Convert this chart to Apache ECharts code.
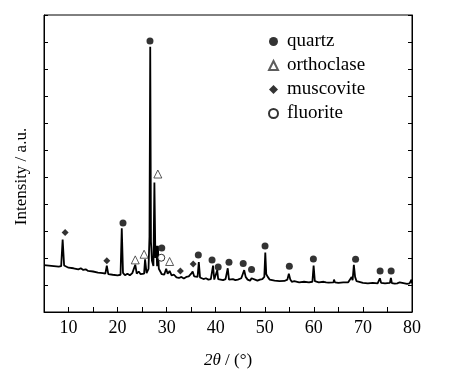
<!DOCTYPE html>
<html>
<head>
<meta charset="utf-8">
<script src="https://cdn.jsdelivr.net/npm/echarts@6/dist/echarts.min.js"></script>
<style>
  html, body { margin: 0; padding: 0; background: #fff; }
  #chart { width: 462px; height: 374px; }
</style>
</head>
<body>
<div id="chart"></div>
<script>
// XRD pattern (2theta in degrees, intensity in a.u.)
const patternX = [5, 6, 7, 8, 8.5, 8.8, 9.1, 9.5, 10, 11, 12, 12.5, 13, 13.5, 14, 15, 16, 17, 17.5, 17.8, 18.1, 19, 20, 20.6, 20.85, 21.1, 21.5, 22, 22.5, 23, 23.3, 23.6, 23.9, 24.3, 24.7, 25, 25.4, 25.6, 25.9, 26.3, 26.5, 26.65, 26.8, 27.0, 27.3, 27.5, 27.7, 27.9, 28.05, 28.2, 28.4, 28.7, 29, 29.5, 29.9, 30.2, 30.6, 31, 31.5, 32, 32.5, 33, 33.5, 34, 34.5, 35, 35.3, 35.6, 36, 36.3, 36.55, 36.8, 37.5, 38, 38.5, 39, 39.25, 39.45, 39.7, 40.1, 40.3, 40.5, 41, 41.5, 42, 42.3, 42.45, 42.7, 43.5, 44, 44.5, 45.2, 45.5, 45.8, 46.1, 46.5, 47, 47.3, 47.6, 48, 48.5, 49, 49.5, 49.9, 50.1, 50.3, 50.6, 51, 52, 53, 54, 54.6, 54.9, 55.2, 55.5, 56, 57, 58, 59, 59.7, 59.95, 60.2, 61, 62, 62.5, 63, 64, 64.1, 64.3, 65, 66, 67, 67.7, 67.9, 68.15, 68.4, 68.7, 69, 70, 71, 72, 73, 73.45, 73.7, 74.5, 75.5, 75.7, 75.9, 76.5, 77, 77.5, 77.8, 78.5, 79, 79.5, 79.9, 80];
const patternY = [1.74, 1.72, 1.70, 1.68, 1.70, 2.68, 1.72, 1.66, 1.64, 1.62, 1.58, 1.62, 1.56, 1.58, 1.52, 1.50, 1.46, 1.44, 1.42, 1.72, 1.40, 1.38, 1.36, 1.38, 3.10, 1.45, 1.36, 1.42, 1.36, 1.44, 1.40, 1.75, 1.42, 1.50, 1.40, 1.46, 1.42, 1.95, 1.44, 1.60, 2.80, 9.82, 2.60, 1.90, 1.70, 4.80, 2.00, 2.45, 1.70, 2.45, 1.60, 1.50, 1.40, 1.38, 1.60, 1.42, 1.52, 1.36, 1.38, 1.28, 1.26, 1.30, 1.24, 1.30, 1.32, 1.42, 1.50, 1.32, 1.28, 1.30, 1.85, 1.28, 1.22, 1.25, 1.20, 1.22, 1.18, 1.72, 1.20, 1.25, 1.55, 1.22, 1.20, 1.18, 1.22, 1.20, 1.62, 1.20, 1.22, 1.18, 1.20, 1.25, 1.40, 1.55, 1.30, 1.20, 1.16, 1.25, 1.18, 1.20, 1.16, 1.20, 1.22, 1.30, 2.20, 1.40, 1.30, 1.20, 1.16, 1.14, 1.15, 1.20, 1.42, 1.20, 1.12, 1.14, 1.10, 1.12, 1.10, 1.12, 1.72, 1.14, 1.10, 1.12, 1.10, 1.09, 1.10, 1.20, 1.10, 1.08, 1.10, 1.10, 1.30, 1.18, 1.75, 1.30, 1.14, 1.10, 1.08, 1.06, 1.08, 1.06, 1.25, 1.08, 1.06, 1.08, 1.26, 1.07, 1.05, 1.06, 1.10, 1.04, 1.06, 1.04, 1.06, 1.20, 1.06];

// phase markers above the peaks
const quartzX = [21.1, 26.6, 29.0, 36.45, 39.25, 40.5, 42.7, 45.6, 47.3, 50.05, 55.0, 59.9, 68.5, 73.5, 75.75];
const quartzY = [3.30, 10.04, 2.37, 2.11, 1.93, 1.67, 1.84, 1.80, 1.57, 2.44, 1.69, 1.96, 1.95, 1.52, 1.52];
const orthoclaseX = [23.6, 25.4, 28.2, 30.6];
const orthoclaseY = [1.93, 2.14, 5.11, 1.87];
const muscoviteX = [9.3, 17.8, 32.8, 35.4];
const muscoviteY = [2.94, 1.90, 1.52, 1.78];
const fluoriteX = [28.9];
const fluoriteY = [2.01];

const xTicks = [10, 20, 30, 40, 50, 60, 70, 80];

const pairs = (xs, ys) => xs.map((x, i) => [x, ys[i]]);
const serif = '"Liberation Serif", "Times New Roman", serif';

const myChart = echarts.init(document.getElementById('chart'));

const option = {
  animation: false,
  textStyle: { fontFamily: serif, color: '#000' },
  grid: {
    left: 44, right: 50, top: 15, bottom: 62,
    show: true, borderColor: '#000', borderWidth: 1
  },
  legend: {
    orient: 'vertical',
    left: 263,
    top: 27,
    itemWidth: 9,
    itemHeight: 9,
    itemGap: 5,
    data: ['quartz', 'orthoclase', 'muscovite', 'fluorite'],
    textStyle: { fontFamily: serif, fontSize: 19, lineHeight: 19, color: '#000', padding: [0, 0, 0, 4] }
  },
  xAxis: {
    type: 'value',
    min: 5,
    max: 80,
    interval: 5,
    name: '{i|2θ} / (°)',
    nameLocation: 'middle',
    nameGap: 40,
    nameTextStyle: {
      fontFamily: serif, fontSize: 17, color: '#000',
      rich: { i: { fontFamily: serif, fontSize: 17, fontStyle: 'italic' } }
    },
    axisLine: { lineStyle: { color: '#000', width: 1 } },
    axisTick: { inside: true, length: 5, lineStyle: { color: '#000' } },
    axisLabel: {
      fontFamily: serif, fontSize: 18, color: '#000', margin: 7,
      formatter: v => (xTicks.indexOf(v) >= 0 ? String(v) : '')
    },
    splitLine: { show: false }
  },
  yAxis: [
    {
      type: 'value',
      min: 0,
      max: 11,
      interval: 1,
      name: 'Intensity / a.u.',
      nameLocation: 'middle',
      nameGap: 14,
      nameTextStyle: { fontFamily: serif, fontSize: 17, color: '#000', padding: [0, 26, 0, 0] },
      axisLine: { show: true, lineStyle: { color: '#000' } },
      axisTick: { show: true, inside: true, length: 4, lineStyle: { color: '#000' } },
      axisLabel: { show: false },
      splitLine: { show: false }
    },
    {
      type: 'value',
      position: 'right',
      min: 0,
      max: 11,
      interval: 1,
      axisLine: { show: true, lineStyle: { color: '#000' } },
      axisTick: { show: true, inside: true, length: 4, lineStyle: { color: '#000' } },
      axisLabel: { show: false },
      splitLine: { show: false }
    }
  ],
  series: [
    {
      name: 'pattern',
      type: 'line',
      data: pairs(patternX, patternY),
      showSymbol: false,
      lineStyle: { color: '#000', width: 1.8 },
      z: 2
    },
    {
      name: 'quartz',
      type: 'scatter',
      symbol: 'circle',
      symbolSize: 7,
      data: pairs(quartzX, quartzY),
      itemStyle: { color: '#000' },
      z: 3
    },
    {
      name: 'orthoclase',
      type: 'scatter',
      symbol: 'triangle',
      symbolSize: 8,
      data: pairs(orthoclaseX, orthoclaseY),
      itemStyle: { color: '#fff', borderColor: '#333', borderWidth: 1 },
      z: 3
    },
    {
      name: 'muscovite',
      type: 'scatter',
      symbol: 'diamond',
      symbolSize: 7,
      data: pairs(muscoviteX, muscoviteY),
      itemStyle: { color: '#000' },
      z: 3
    },
    {
      name: 'fluorite',
      type: 'scatter',
      symbol: 'circle',
      symbolSize: 7,
      data: pairs(fluoriteX, fluoriteY),
      itemStyle: { color: '#fff', borderColor: '#000', borderWidth: 1 },
      z: 3
    }
  ]
};

myChart.setOption(option);
</script>
</body>
</html>
